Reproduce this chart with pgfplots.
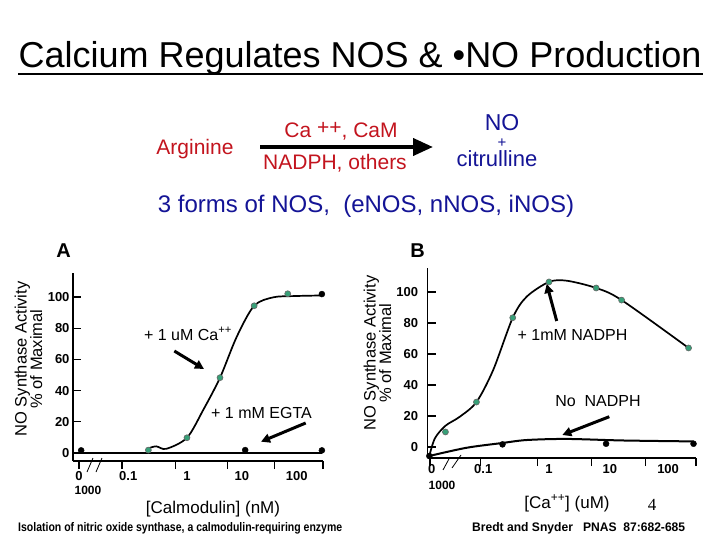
\documentclass[border=0pt]{standalone}
\usepackage{pgfplots}
\pgfplotsset{compat=1.18}
\usepackage{fontspec}
\setmainfont{Liberation Sans}
\newfontfamily\seriffont{Liberation Serif}
\usepackage{graphicx}
\usetikzlibrary{arrows.meta}
\definecolor{myred}{RGB}{195,20,30}
\definecolor{myblue}{RGB}{20,20,150}
\definecolor{mygreen}{RGB}{55,160,120}
\newcommand{\fs}[1]{\fontsize{#1}{#1}\selectfont}
\begin{document}
\begin{tikzpicture}
\useasboundingbox (0,0) rectangle (720pt,-540pt);
\fill[white] (0,0) rectangle (720pt,-540pt);
% title
\node[anchor=base, inner sep=0pt, font=\fs{36}] at (360pt,-68pt) {Calcium Regulates NOS \& •NO Production};
\draw[line width=2pt] (18pt,-74pt) -- (703pt,-74pt);
% reaction
\node[anchor=base, inner sep=0pt, text=myred, font=\fs{21}] at (195pt,-155pt) {Arginine};
\node[anchor=base, inner sep=0pt, text=myred, font=\fs{21}] at (341pt,-138pt) {Ca \raisebox{3pt}{++}, CaM};
\node[anchor=base, inner sep=0pt, text=myred, font=\fs{21}] at (335pt,-170pt) {NADPH, others};
\draw[line width=4pt, -{Triangle[length=20pt,width=17pt]}] (260pt,-147pt) -- (433pt,-147pt);
\node[anchor=base, inner sep=0pt, text=myblue, font=\fs{23}] at (502pt,-131pt) {NO};
\node[anchor=base, inner sep=0pt, text=myblue, font=\fs{15}] at (502pt,-147.5pt) {+};
\node[anchor=base, inner sep=0pt, text=myblue, font=\fs{22}] at (497pt,-167pt) {citrulline};
\node[anchor=base, inner sep=0pt, text=myblue, font=\fs{24}] at (366pt,-212pt) {3 forms of NOS,\ \ (eNOS, nNOS, iNOS)};
% panel letters
\node[anchor=base, inner sep=0pt, font=\fs{20}\bfseries] at (63.5pt,-258pt) {A};
\node[anchor=base, inner sep=0pt, font=\fs{20}\bfseries] at (417.5pt,-258pt) {B};

% ---------------- Panel A
\begin{axis}[
  at={(73pt,-461pt)}, anchor=south west, scale only axis,
  width=250pt, height=188pt,
  xmin=-2.036, xmax=2.43, ymin=-5.1, ymax=115.4,
  axis x line*=bottom, axis y line*=left,
  axis line style={line width=1.2pt, -},
  tick style={black, line width=1.2pt},
  major tick length=8pt,
  xtick={-1.93,-1.16,-0.21,0.73,1.57,2.43}, xticklabels={},
  xtick align=outside,
  ytick={0,20,40,60,80,100}, ytick align=inside,
  yticklabel style={font=\fs{13}\bfseries},
  /pgf/number format/assume math mode=true,
  extra x ticks={-1.93,-1.05,0,0.98,1.96},
  extra x tick labels={0,0.1,1,10,100},
  extra x tick style={major tick length=0pt, xticklabel style={font=\fs{13}\bfseries, yshift=-7pt}},
  clip=false,
]
\addplot[black, line width=2.2pt] coordinates {(-1.89,0) (2.41,0)};
\addplot[black, line width=1.7pt, smooth] coordinates {(-0.69,3) (-0.55,4.3) (-0.37,2.7) (0.0,9.8) (0.29,27.6) (0.59,48.3) (0.89,74.6) (1.20,94.4) (1.54,99.8) (1.90,100.6) (2.41,101)};
\addplot[only marks, mark=*, mark size=3pt, mark options={fill=mygreen, draw=black!60, line width=0.6pt}] coordinates {(-0.69,1.9) (0.0,9.8) (0.59,48.3) (1.20,94.4) (1.80,102.1)};
\addplot[only marks, mark=*, mark size=3pt, black] coordinates {(-1.89,1.7) (1.04,1.9) (2.41,1.7) (2.41,101.9)};
\end{axis}
\draw[line width=0.8pt] (87pt,-472pt) -- (93pt,-458pt) (96pt,-472pt) -- (102pt,-458pt);
\node[anchor=center, inner sep=0pt, font=\fs{12}\bfseries] at (88pt,-490pt) {1000};
\node[rotate=90, align=center, inner sep=0pt, font=\fs{16.5}] at (28.5pt,-359pt) {NO Synthase Activity\\[-1pt]\% of Maximal};
\node[anchor=base, inner sep=0pt, font=\fs{17}] at (213pt,-513pt) {[Calmodulin] (nM)};
\node[anchor=base, inner sep=0pt, font=\fs{16}] at (188pt,-340pt) {+ 1 uM Ca\textsuperscript{++}};
\node[anchor=base, inner sep=0pt, font=\fs{16}] at (261.5pt,-418pt) {+ 1 mM EGTA};
\draw[line width=3pt, -{Triangle[length=9pt,width=9pt]}] (174.3pt,-351pt) -- (204pt,-369pt);
\draw[line width=3pt, -{Triangle[length=9pt,width=9pt]}] (305.7pt,-423pt) -- (261pt,-441.7pt);

% ---------------- Panel B
\begin{axis}[
  at={(427.7pt,-458pt)}, anchor=south west, scale only axis,
  width=268.3pt, height=190pt,
  xmin=-1.956, xmax=2.37, ymin=-7.1, ymax=115.5,
  axis x line*=bottom, axis y line*=left,
  axis line style={line width=1.2pt, -},
  tick style={black, line width=1.2pt},
  major tick length=8pt,
  xtick={-1.92,-1.10,-0.19,0.69,1.55,2.37}, xticklabels={},
  xtick align=outside,
  ytick={0,20,40,60,80,100}, ytick align=inside,
  yticklabel style={font=\fs{13}\bfseries, xshift=-6pt},
  /pgf/number format/assume math mode=true,
  extra x ticks={-1.89,-1.06,0,0.98,1.92},
  extra x tick labels={0,0.1,1,10,100},
  extra x tick style={major tick length=0pt, xticklabel style={font=\fs{13}\bfseries, yshift=-3pt}},
  clip=false,
]
\addplot[black, line width=2pt, smooth] coordinates {(-1.93,-5.8) (-1.33,-0.5) (-0.75,2.6) (-0.36,4.5) (0.285,5.2) (1.2,4.2) (2.33,3.6)};
\addplot[black, line width=1.7pt, smooth] coordinates {(-1.93,-5.8) (-1.84,5.6) (-1.67,13.7) (-1.44,19.5) (-1.17,29.0) (-0.90,49.7) (-0.585,83.4) (-0.36,97.0) (0,106.5) (0.285,107.3) (0.76,102.6) (1.17,94.8) (2.25,63.9)};
\addplot[only marks, mark=*, mark size=3pt, mark options={fill=mygreen, draw=black!60, line width=0.6pt}] coordinates {(-1.67,9.7) (-1.17,29.0) (-0.585,83.4) (0,106.5) (0.76,102.6) (1.17,94.8) (2.25,63.9)};
\addplot[only marks, mark=*, mark size=3pt, black] coordinates {(-1.93,-5.8) (-0.75,1.7) (0.92,2.1) (2.33,2.1)};
\end{axis}
\draw[line width=0.8pt] (443pt,-470pt) -- (450pt,-457pt) (452pt,-468pt) -- (461pt,-455pt);
\node[anchor=center, inner sep=0pt, font=\fs{12}\bfseries] at (442pt,-485pt) {1000};
\node[rotate=90, align=center, inner sep=0pt, font=\fs{16.5}] at (377.5pt,-353pt) {NO Synthase Activity\\[-1pt]\% of Maximal};
\node[anchor=base, inner sep=0pt, font=\fs{17}] at (567pt,-508pt) {[Ca\textsuperscript{++}] (uM)};
\node[anchor=base, inner sep=0pt, font=\fs{16}] at (572.5pt,-340pt) {+ 1mM NADPH};
\node[anchor=base, inner sep=0pt, font=\fs{16}] at (598pt,-406pt) {No\ \ NADPH};
\draw[line width=3pt, -{Triangle[length=9pt,width=9pt]}] (556.7pt,-321pt) -- (546.7pt,-284pt);
\draw[line width=3pt, -{Triangle[length=9pt,width=9pt]}] (609.3pt,-416.7pt) -- (562.3pt,-435pt);

% footer
\node[anchor=base, inner sep=0pt, font=\seriffont\fs{17}] at (652pt,-510pt) {4};
\node[anchor=base west, inner sep=0pt] at (18pt,-531pt) {\resizebox{324pt}{9pt}{\bfseries Isolation of nitric oxide synthase, a calmodulin-requiring enzyme}};
\node[anchor=base west, inner sep=0pt] at (472pt,-531pt) {\resizebox{213pt}{9pt}{\bfseries Bredt and Snyder\ \ \ PNAS\ \ 87:682-685}};
\end{tikzpicture}
\end{document}
